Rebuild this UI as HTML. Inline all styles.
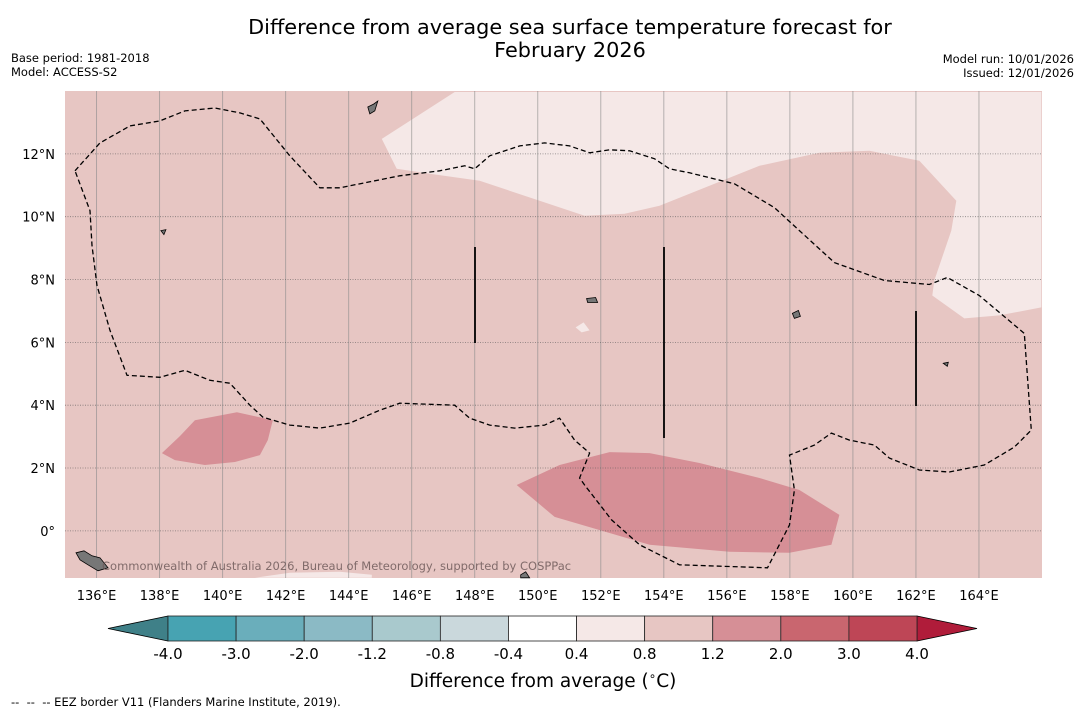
<!DOCTYPE html>
<html><head><meta charset="utf-8">
<style>
body{margin:0;background:#fff;}
svg{display:block;font-family:"DejaVu Sans","Liberation Sans",sans-serif;}
.pre{white-space:pre;}
</style></head>
<body>
<svg id="chart" width="1085" height="713" viewBox="0 0 1085 713">
<text x="570" y="34" text-anchor="middle" font-size="20.8" fill="#000">Difference from average sea surface temperature forecast for</text>
<text x="570" y="57" text-anchor="middle" font-size="20.8" fill="#000">February 2026</text>
<text x="11" y="62" font-size="11.5">Base period: 1981-2018</text>
<text x="11" y="76" font-size="11.5">Model: ACCESS-S2</text>
<text x="1074" y="63" font-size="11.5" text-anchor="end">Model run: 10/01/2026</text>
<text x="1074" y="77" font-size="11.5" text-anchor="end">Issued: 12/01/2026</text>
<g id="map"></g>
<g id="cbar"></g>
<text x="543" y="687" text-anchor="middle" font-size="18.5">Difference from average (<tspan font-size="12" dy="-7">∘</tspan><tspan dy="7">C)</tspan></text>
<text x="11" y="706" font-size="11.5" class="pre">--  --  -- EEZ border V11 (Flanders Marine Institute, 2019).</text>
</svg>
<script>
const NS="http://www.w3.org/2000/svg";
const lonTicks=[136,138,140,142,144,146,148,150,152,154,156,158,160,162,164];
const latTicks=[0,2,4,6,8,10,12];
const cbLabels=["-4.0","-3.0","-2.0","-1.2","-0.8","-0.4","0.4","0.8","1.2","2.0","3.0","4.0"];
const cbColors=["#47a3b2","#6aaebb","#8bbac5","#a9c9cd","#cad8dc","#ffffff","#f5e8e7","#e7c6c3","#d68f96","#c9666f","#be4656"];
const cbLow="#3f8088", cbHigh="#b01c3a";
const L0=135,L1=166,B0=-1.5,B1=14, X0=65,X1=1042,Y0=91,Y1=578;
const px=l=>X0+(l-L0)/(L1-L0)*(X1-X0);
const py=b=>Y1-(b-B0)/(B1-B0)*(Y1-Y0);
const P=(x)=>135+(x-65)/31.54, Q=(y)=>(531-y)/31.5;
function mk(t,a,parent){const e=document.createElementNS(NS,t);for(const k in a)e.setAttribute(k,a[k]);parent.appendChild(e);return e;}
function pathFromPix(pts,close){return pts.map((p,i)=>(i?"L":"M")+px(P(p[0])).toFixed(1)+","+py(Q(p[1])).toFixed(1)).join("")+(close?"Z":"");}
const map=document.getElementById("map");
let e;
e=mk("rect",{x:X0,y:Y0,width:X1-X0,height:Y1-Y0,fill:"#e7c6c3"},map);


const light=[[455,91],[382,138],[397,168],[430,173],[480,180],[540,200],[585,215],[625,213],[660,205],[710,185],[760,165],[820,152],[870,150],[920,160],[957,200],[952,230],[935,280],[933,295],[965,318],[1000,315],[1042,307],[1042,91]];
e=mk("path",{d:pathFromPix(light,true),fill:"#f5e8e7"},map);


e=mk("path",{d:pathFromPix([[576,327],[584,322],[590,330],[582,332]],true),fill:"#f5e8e7"},map);


e=mk("path",{d:pathFromPix([[255,578],[290,573],[340,572],[372,575],[372,578]],true),fill:"#f5e8e7"},map);


const d1=[[162,453],[180,436],[195,420],[237,412],[273,420],[268,440],[260,455],[235,462],[205,465],[175,460]];
const d2=[[517,485],[560,465],[610,452],[650,453],[700,463],[760,478],[800,490],[840,515],[832,545],[790,553],[730,552],[650,545],[555,517]];
[d1,d2].forEach((d,i)=>{e=mk("path",{d:pathFromPix(d,true),fill:"#d68f96"},map);

});
lonTicks.forEach(l=>{e=mk("line",{x1:px(l),x2:px(l),y1:Y0,y2:Y1,stroke:"#8a8a8a","stroke-opacity":0.6,"stroke-width":1},map);


e=mk("text",{x:px(l),y:600,"text-anchor":"middle","font-size":13},map);e.textContent=l+"°E";

});
latTicks.forEach(b=>{e=mk("line",{x1:X0,x2:X1,y1:py(b),y2:py(b),stroke:"#555","stroke-opacity":0.7,"stroke-width":0.8,"stroke-dasharray":"1,1.5"},map);


e=mk("text",{x:55,y:py(b)+5,"text-anchor":"end","font-size":13},map);e.textContent=b===0?"0°":b+"°N";

});
const eez=[[75,170],[100,142],[130,125],[160,120],[185,110],[215,107],[240,112],[260,118],[290,155],[320,187],[340,187],[400,175],[440,170],[465,165],[475,168],[490,155],[520,145],[545,142],[570,145],[590,152],[610,149],[630,150],[655,158],[670,168],[690,172],[735,183],[775,207],[800,230],[835,262],[885,280],[930,284],[948,277],[980,295],[1025,333],[1032,430],[1015,447],[985,465],[950,472],[920,470],[890,458],[875,445],[850,440],[832,433],[815,445],[790,455],[795,490],[790,525],[768,568],[680,565],[640,545],[612,520],[585,485],[580,478],[590,453],[575,440],[560,418],[545,425],[515,428],[490,425],[470,418],[455,405],[400,403],[380,410],[350,423],[320,428],[290,425],[263,417],[250,405],[230,383],[210,380],[185,370],[160,377],[127,375],[110,330],[97,285],[92,245],[90,210],[75,170]];
e=mk("path",{d:pathFromPix(eez,false),fill:"none",stroke:"#000","stroke-width":1.3,"stroke-dasharray":"5,3"},map);


[[475,247,343],[664,247,438],[916,311,406]].forEach(v=>{e=mk("line",{x1:v[0],x2:v[0],y1:v[1],y2:v[2],stroke:"#000","stroke-width":1.8},map);

});
const isl=[[[368,106],[374,103],[378,100],[375,110],[370,113]],[[76,553],[84,551],[92,556],[100,558],[108,568],[98,571],[88,565],[80,560]],[[521,575],[526,572],[530,578],[521,578]],[[793,313],[799,310],[801,316],[795,318]],[[587,298],[596,297],[598,302],[588,302]],[[161,230],[166,229],[164,234]],[[944,363],[949,362],[948,366]]];
isl.forEach(s=>{e=mk("path",{d:pathFromPix(s,true),fill:"#777",stroke:"#000","stroke-width":0.8},map);

});
e=mk("text",{x:102,y:570,"font-size":11.5,fill:"#6e5a5a","fill-opacity":0.85},map);e.textContent="Commonwealth of Australia 2026, Bureau of Meteorology, supported by COSPPac";


const cb=document.getElementById("cbar");
const CX0=168,CX1=917,CY0=616,CY1=641,n=cbColors.length;
const cx=i=>CX0+i*(CX1-CX0)/n;
e=mk("polygon",{points:`${CX0},${CY0} 108,${(CY0+CY1)/2} ${CX0},${CY1}`,fill:cbLow,stroke:"#000","stroke-width":0.8},cb);


e=mk("polygon",{points:`${CX1},${CY0} 977,${(CY0+CY1)/2} ${CX1},${CY1}`,fill:cbHigh,stroke:"#000","stroke-width":0.8},cb);


cbColors.forEach((c,i)=>{e=mk("rect",{x:cx(i),y:CY0,width:cx(i+1)-cx(i),height:CY1-CY0,fill:c,stroke:"#222","stroke-width":0.8},cb);

});
cbLabels.forEach((t,i)=>{e=mk("text",{x:cx(i),y:659,"text-anchor":"middle","font-size":15},cb);e.textContent=t;

});
</script>
</body></html>
